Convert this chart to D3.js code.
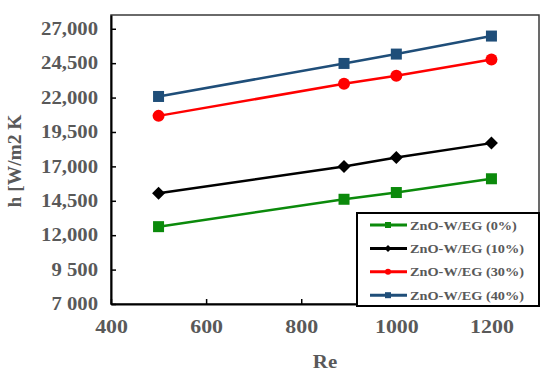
<!DOCTYPE html>
<html>
<head>
<meta charset="utf-8">
<script src="https://cdn.jsdelivr.net/npm/d3@7"></script>
<style>
  body { margin: 0; background: #fff; }
  svg text { font-family: "Liberation Serif", "Times New Roman", serif; font-weight: bold; }
</style>
</head>
<body>
<div id="chart"></div>
<script>
// data
const reValues = [500, 890, 1000, 1200];
const seriesNames = ['ZnO-W/EG (0%)', 'ZnO-W/EG (10%)', 'ZnO-W/EG (30%)', 'ZnO-W/EG (40%)'];
const h0 = [12620, 14610, 15100, 16100];
const h10 = [15050, 16990, 17640, 18690];
const h30 = [20670, 23000, 23580, 24770];
const h40 = [22080, 24480, 25160, 26470];
const xTicks = [400, 600, 800, 1000, 1200];
const yTicks = [7000, 9500, 12000, 14500, 17000, 19500, 22000, 24500, 27000];
const yTickLabels = ['7 000', '9 500', '12,000', '14,500', '17,000', '19,500', '22,000', '24,500', '27,000'];

const series = [
    { name: seriesNames[0], values: h0, color: '#0b8a0b', marker: 'square' },
    { name: seriesNames[1], values: h10, color: '#000000', marker: 'diamond' },
    { name: seriesNames[2], values: h30, color: '#ff0000', marker: 'circle' },
    { name: seriesNames[3], values: h40, color: '#1f4e79', marker: 'square' }
];

const width = 550, height = 374;
const margin = { top: 15, right: 11, bottom: 70, left: 111 };
const plotW = width - margin.left - margin.right;
const plotH = height - margin.top - margin.bottom;
const labelColor = '#595959';

const svg = d3.select('#chart').append('svg')
    .attr('width', width)
    .attr('height', height);

const g = svg.append('g')
    .attr('transform', `translate(${margin.left},${margin.top})`);

const x = d3.scaleLinear().domain([400, 1300]).range([0, plotW]);
const y = d3.scaleLinear().domain([7000, 28000]).range([plotH, 0]);

// plot frame (top / right)
g.append('rect')
    .attr('width', plotW)
    .attr('height', plotH)
    .attr('fill', 'none')
    .attr('stroke', '#3a3a3a')
    .attr('stroke-width', 1.5);

// stretch the Times-like glyphs a bit, the source is wider than the font
function widen(sel, k) {
    sel.each(function () {
        const w = this.getComputedTextLength();
        d3.select(this).attr('textLength', w * k).attr('lengthAdjust', 'spacingAndGlyphs');
    });
}

// x axis
const xAxis = g.append('g')
    .attr('transform', `translate(0,${plotH})`)
    .call(d3.axisBottom(x).tickValues(xTicks).tickFormat(d3.format('d')).tickSizeInner(-5).tickSizeOuter(0).tickPadding(16));
xAxis.select('.domain').attr('stroke', '#000').attr('stroke-width', 2);
xAxis.selectAll('.tick line').attr('stroke', '#000').attr('stroke-width', 1.5);
xAxis.selectAll('.tick text')
    .attr('fill', labelColor)
    .style('font-size', '19px')
    .call(widen, 1.15);

// y axis
const yAxis = g.append('g')
    .call(d3.axisLeft(y).tickValues(yTicks).tickFormat((d, i) => yTickLabels[i]).tickSizeInner(-5).tickSizeOuter(0).tickPadding(13));
yAxis.select('.domain').attr('stroke', '#000').attr('stroke-width', 2);
yAxis.selectAll('.tick line').attr('stroke', '#000').attr('stroke-width', 1.5);
yAxis.selectAll('.tick text')
    .attr('fill', labelColor)
    .style('font-size', '18px')
    .call(widen, 1.15);

// axis titles
svg.append('text')
    .attr('x', margin.left + plotW / 2)
    .attr('y', 368)
    .attr('text-anchor', 'middle')
    .attr('fill', labelColor)
    .style('font-size', '19px')
    .text('Re')
    .call(widen, 1.1);

svg.append('text')
    .attr('transform', 'translate(21,161) rotate(-90)')
    .attr('text-anchor', 'middle')
    .attr('fill', labelColor)
    .style('font-size', '18px')
    .text('h [W/m2 K')
    .call(widen, 1.08);

function drawMarker(sel, type, size, color) {
    if (type === 'circle') {
        sel.append('circle').attr('r', size / 2).attr('fill', color);
    } else if (type === 'square') {
        sel.append('rect')
            .attr('x', -size / 2).attr('y', -size / 2)
            .attr('width', size).attr('height', size)
            .attr('fill', color);
    } else {
        const s = size / 2;
        sel.append('path')
            .attr('d', `M0,${-s}L${s},0L0,${s}L${-s},0Z`)
            .attr('fill', color);
    }
}

const line = d3.line()
    .x((d, i) => x(reValues[i]))
    .y(d => y(d));

series.forEach(s => {
    g.append('path')
        .datum(s.values)
        .attr('fill', 'none')
        .attr('stroke', s.color)
        .attr('stroke-width', 2.5)
        .attr('d', line);

    s.values.forEach((v, i) => {
        const m = g.append('g').attr('transform', `translate(${x(reValues[i])},${y(v)})`);
        const sz = s.marker === 'circle' ? 12 : (s.marker === 'diamond' ? 13 : 11);
        drawMarker(m, s.marker, sz, s.color);
    });
});

// legend
const legend = svg.append('g');
legend.append('rect')
    .attr('x', 357).attr('y', 213)
    .attr('width', 182).attr('height', 93)
    .attr('fill', '#fff')
    .attr('stroke', '#000')
    .attr('stroke-width', 2);

series.forEach((s, i) => {
    const ly = 225 + i * 23.4;
    legend.append('line')
        .attr('x1', 370).attr('x2', 407)
        .attr('y1', ly).attr('y2', ly)
        .attr('stroke', s.color)
        .attr('stroke-width', 3);
    const m = legend.append('g').attr('transform', `translate(388,${ly})`);
    drawMarker(m, s.marker, s.marker === 'diamond' ? 7 : 6, s.color);
    legend.append('text')
        .attr('x', 410)
        .attr('y', ly)
        .attr('dy', '0.35em')
        .attr('fill', labelColor)
        .style('font-size', '13px')
        .text(s.name)
        .call(widen, 1.1);
});
</script>
</body>
</html>
